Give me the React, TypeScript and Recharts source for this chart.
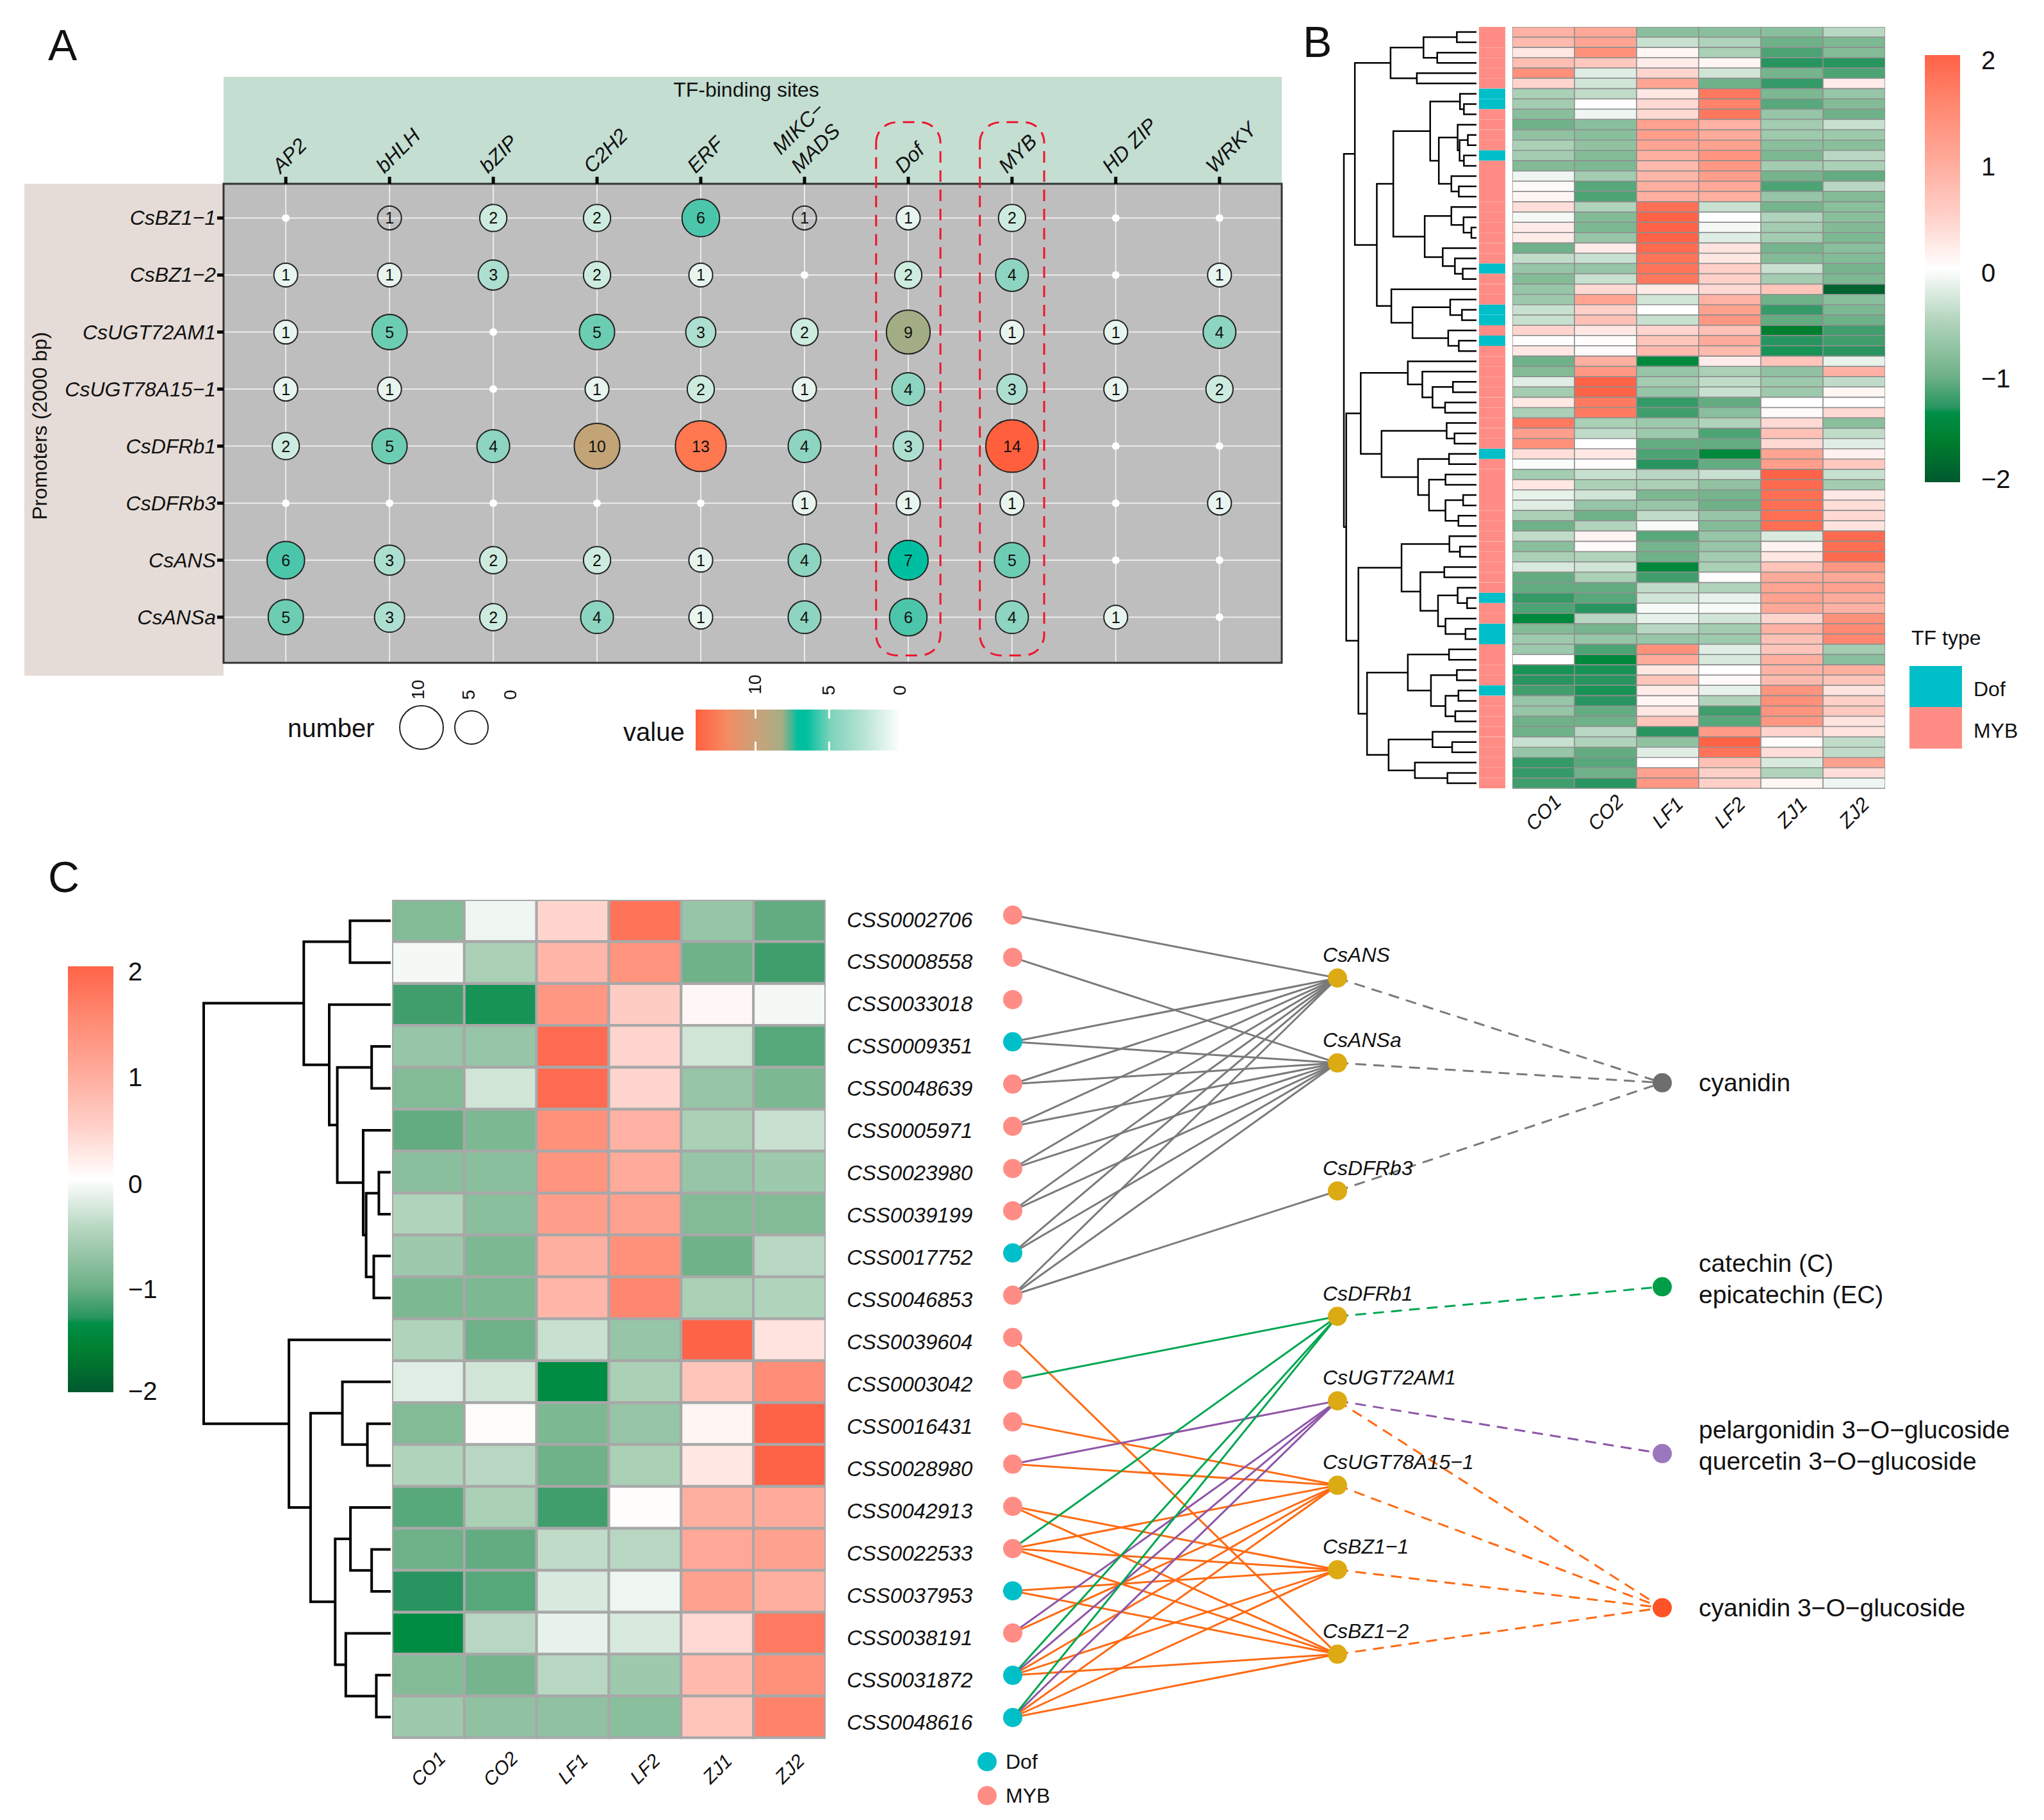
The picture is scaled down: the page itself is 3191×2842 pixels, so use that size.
import React from 'react'
import {
  BarChart, Bar, Cell, XAxis, YAxis, ZAxis, ScatterChart, Scatter, CartesianGrid,
  ReferenceArea, LineChart, Line,
} from 'recharts'

const FONT = '"Liberation Sans", Arial, sans-serif'

// ---- panel A ----
const tfSites = ['AP2', 'bHLH', 'bZIP', 'C2H2', 'ERF', 'MIKC−|MADS', 'Dof', 'MYB', 'HD ZIP', 'WRKY']
const promoters = ['CsBZ1−1', 'CsBZ1−2', 'CsUGT72AM1', 'CsUGT78A15−1', 'CsDFRb1', 'CsDFRb3', 'CsANS', 'CsANSa']
const siteCounts = [
  [0, 1, 2, 2, 6, 1, 1, 2, 0, 0],
  [1, 1, 3, 2, 1, 0, 2, 4, 0, 1],
  [1, 5, 0, 5, 3, 2, 9, 1, 1, 4],
  [1, 1, 0, 1, 2, 1, 4, 3, 1, 2],
  [2, 5, 4, 10, 13, 4, 3, 14, 0, 0],
  [0, 0, 0, 0, 0, 1, 1, 1, 0, 1],
  [6, 3, 2, 2, 1, 4, 7, 5, 0, 0],
  [5, 3, 2, 4, 1, 4, 6, 4, 1, 0],
]
// these two cells of the first row have no fill in the figure
const unfilledSites = ['0-1', '0-5']
const countColors: Record<number, string> = {
  1: '#e8f5ef', 2: '#cdecdf', 3: '#acdfd0', 4: '#8dd5c0', 5: '#6dcdb3', 6: '#4cc6ab',
  7: '#00bfa0', 9: '#a3ad85', 10: '#c2a476', 13: '#ff7850', 14: '#ff5f3c',
}

// ---- heatmap colours ----
const heatStops: [number, string][] = [
  [-2, '#00592f'], [-1.6, '#007f2f'], [-1.35, '#008f47'], [-1.3, '#289560'], [-1, '#6fb188'],
  [-0.5, '#b0d3bb'], [0, '#ffffff'], [0.5, '#ffd0c8'], [1, '#ffab9b'], [1.5, '#ff8a73'], [2, '#ff6347'],
]
const samples = ['CO1', 'CO2', 'LF1', 'LF2', 'ZJ1', 'ZJ2']

// ---- panel B ----
const heatB = [
  [0.9, 1.05, -0.8, -0.8, -0.8, -0.45], [0.8, 1.1, -0.35, -0.5, -1, -0.9], [0.25, 1.4, 0.1, -0.55, -1.15, -0.85],
  [0.75, 0.6, 0.2, 0.1, -1.3, -1.3], [1.4, -0.2, 0.45, -0.3, -0.95, -1.15], [0.45, -0.3, 1.1, -1, -1.25, 0.2],
  [-0.55, -0.4, 0.25, 1.75, -0.9, -0.7], [-0.6, 0, 0.4, 1.6, -1.1, -0.85], [-0.8, -0.1, 0.4, 1.75, -0.7, -1],
  [-1, -0.8, 1.15, 0.9, -0.6, -0.35], [-0.75, -0.8, 1.2, 1, -0.65, -0.65], [-0.55, -0.75, 1.1, 1.15, -0.8, -0.8],
  [-0.6, -0.85, 0.95, 1.35, -0.9, -0.45], [-0.85, -0.9, 0.8, 1.3, -0.6, -0.55], [-0.1, -0.6, 0.85, 1.2, -0.95, -1.05],
  [0.05, -1.1, 0.95, 1.05, -1.15, -0.45], [0.1, -1.15, 0.95, 0.95, -0.7, -0.85], [0.35, -0.5, 1.85, -0.35, -0.95, -0.8],
  [-0.07, -0.85, 2, 0, -0.5, -0.8], [0.2, -0.9, 2, -0.07, -0.6, -0.85], [0.2, -0.7, 2, -0.2, -0.6, -0.9],
  [-1, 0.2, 1.9, 0.3, -0.95, -0.8], [-0.4, -0.35, 1.8, 0.25, -0.85, -0.85], [-0.7, -0.7, 1.8, 0.5, -0.35, -0.95],
  [-0.85, -0.35, 1.75, 0.5, -0.6, -0.9], [-0.7, 0.4, 0.2, 0.4, 0.65, -1.9], [-0.65, 1.1, -0.3, 0.9, -1, -0.8],
  [-0.35, 0.5, 0, 1.15, -1.25, -0.9], [-0.35, 0.7, -0.35, 1.3, -1.05, -1], [0.45, 0.25, 0.45, 0.7, -1.6, -1.2],
  [-0.02, 0.03, 0.65, 1, -1.3, -1.2], [0.25, 0.05, 0.8, 0.8, -1.32, -1.3], [-1, 0.95, -1.45, 0.2, 0.65, -0.15],
  [-0.85, 1.3, -0.7, -0.55, -0.75, 0.9], [-0.2, 2, -0.6, -0.4, -0.65, -0.4], [-0.6, 2, -0.7, -0.35, -0.65, 0.1],
  [0.25, 1.7, -1.25, -1.05, 0, 0], [-0.55, 1.7, -1.2, -0.8, 0.05, 0.4], [1.7, -0.55, -0.65, -0.5, 0.4, -0.8],
  [1.2, -0.4, -0.65, -1.15, 0.7, -0.4], [1.4, 0, -1.05, -1.05, 0.4, -0.2], [0.35, 0.25, -1.15, -1.45, 1.1, 0.15],
  [-0.03, 0.03, -1.3, -1.05, 1.2, 0.6], [-0.6, -0.35, -0.45, -0.35, 2, -0.35], [0.25, -0.55, -0.55, -0.75, 1.9, -0.6],
  [-0.15, -0.3, -0.9, -0.95, 1.85, 0.25], [-0.2, -0.7, -0.7, -1, 1.85, 0.35], [-0.55, -1, -0.4, -0.7, 1.85, 0.4],
  [-1, -0.5, -0.05, -0.85, 1.85, 0.3], [-0.4, 0.12, -1.1, -0.7, -0.25, 1.9], [-0.8, 0.05, -0.95, -0.7, 0.12, 1.85],
  [-0.55, -0.5, -1, -0.6, 0.25, 1.9], [-0.25, -0.3, -1.45, -0.55, 0.65, 1.3], [-1.05, -0.55, -1.2, 0.03, 1, 1.05],
  [-1.05, -1.05, -0.4, -0.5, 1.1, 1.15], [-1.25, -1.1, -0.3, -0.15, 1.15, 1], [-1.15, -1.3, -0.05, -0.05, 1.05, 0.9],
  [-1.45, -0.45, -0.15, -0.3, 0.45, 1.4], [-0.85, -0.95, -0.45, -0.6, 0.9, 1.5], [-0.65, -0.7, -0.7, -0.65, 0.7, 1.55],
  [-0.65, -1.15, 1.4, -0.2, 0.65, -0.6], [0, -1.45, 1, -0.25, 0.95, -0.8], [-1.32, -1.32, 0.25, 0, 0.9, 0.95],
  [-1.3, -1.3, 0.65, 0.05, 0.8, 0.65], [-1.2, -1.32, 0.2, -0.15, 1.35, 0.3], [-0.7, -1.3, 0.1, -0.5, 1.4, 0.5],
  [-0.7, -1.05, 0.25, -1.2, 1.35, 0.6], [-1, -1, 0.65, -1.1, 1.3, 0.3], [-1, -0.45, -1.3, 1.25, 0.45, 0.3],
  [-0.35, -0.5, -0.75, 2, 0.03, -0.4], [-0.7, -1.05, -0.2, 1.8, 0.35, -0.4], [-1.25, -1.1, 0, 0.7, -0.25, 1.15],
  [-1.25, -1, 1.15, 0.5, -0.5, 0.35], [-1.2, -1.3, 1.3, 0.5, 0.1, -0.1],
]
const dofRowsB = [6, 7, 12, 23, 27, 28, 30, 41, 55, 58, 59, 64]

type Tree = number | [number, Tree, Tree]
const clusterB1: Tree = [219, [135, [50, 0, 1], [100, 2, 3]], [152, 4, 5]]
const clusterB2: Tree = [118,
  [42, 6, [32, 7, 8]],
  [96, [48, 9, [43, [22, 10, 11], [32, 12, 13]]], [64, 14, [45, 15, 16]]]]
const clusterB3: Tree = [132,
  [64, 17, [33, 18, [13, 19, 20]]],
  [86, 21, [55, 22, [35, 23, 24]]]]
const clusterB4: Tree = [217, 25, [163, [67, 26, [37, 27, 28]], [72, 29, [45, 30, 31]]]]
const clusterB5: Tree = [175, 32, [138, 33, [112, [60, 34, 35], [80, 36, 37]]]]
const clusterB6: Tree = [242, [76, 38, [56, 39, 40]], [149, [70, 41, 42], [121, [79, 43, 44], [79, [34, 45, 46], [46, 47, 48]]]]]
const clusterB7: Tree = [191, [69, 49, [42, 50, 51]], [143, [82, 52, 53], [98, [48, 54, [24, 55, 56]], [79, 57, [28, 58, 59]]]]]
const clusterB8: Tree = [175, [70, 60, 61], [116, [50, 62, 63], [79, [46, 64, 65], [54, 66, 67]]]]
const clusterB9: Tree = [224, [112, 68, [62, 69, 70]], [157, 71, [74, 72, 73]]]
const treeB: Tree = [338,
  [310, clusterB1, [254, [212, clusterB2, clusterB3], clusterB4]],
  [332, [295, clusterB5, clusterB6], [301, clusterB7, [279, clusterB8, clusterB9]]]]

// ---- panel C ----
const heatC = [
  [-0.85, -0.1, 0.45, 1.8, -0.7, -1.05], [-0.07, -0.55, 0.85, 1.35, -1, -1.2], [-1.2, -1.32, 1.3, 0.55, 0.08, -0.07],
  [-0.7, -0.7, 1.9, 0.45, -0.3, -1.1], [-0.85, -0.3, 1.9, 0.45, -0.7, -0.9], [-1.05, -0.9, 1.4, 0.9, -0.55, -0.35],
  [-0.8, -0.8, 1.35, 1, -0.7, -0.65], [-0.5, -0.8, 1.2, 1.15, -0.85, -0.85], [-0.65, -0.9, 0.95, 1.4, -1, -0.45],
  [-0.9, -0.9, 0.85, 1.55, -0.55, -0.5], [-0.5, -1, -0.35, -0.7, 2, 0.3], [-0.2, -0.3, -1.4, -0.55, 0.65, 1.45],
  [-0.85, 0.03, -0.9, -0.7, 0.1, 2], [-0.5, -0.45, -1, -0.55, 0.25, 2], [-1.1, -0.55, -1.2, 0.03, 0.95, 1],
  [-1, -1.05, -0.4, -0.45, 1.05, 1.15], [-1.3, -1.1, -0.25, -0.1, 1.15, 0.95], [-1.4, -0.45, -0.15, -0.25, 0.4, 1.7],
  [-0.85, -0.95, -0.45, -0.65, 0.8, 1.4], [-0.65, -0.75, -0.75, -0.8, 0.65, 1.6],
]
const treeC: Tree = [441,
  [205, [96, 0, 1], [145, 2, [126, [45, 3, 4], [65, 5, [58, [28, 6, 7], [40, 8, 9]]]]]],
  [240, 10, [189, [114, 11, [55, 12, 13]], [131, [95, 14, [45, 15, 16]], [106, 17, [34, 18, 19]]]]]]

const tfNames = [
  'CSS0002706', 'CSS0008558', 'CSS0033018', 'CSS0009351', 'CSS0048639', 'CSS0005971', 'CSS0023980',
  'CSS0039199', 'CSS0017752', 'CSS0046853', 'CSS0039604', 'CSS0003042', 'CSS0016431', 'CSS0028980',
  'CSS0042913', 'CSS0022533', 'CSS0037953', 'CSS0038191', 'CSS0031872', 'CSS0048616',
]
const dofTfs = [3, 8, 16, 18, 19]
const enzymes = ['CsANS', 'CsANSa', 'CsDFRb3', 'CsDFRb1', 'CsUGT72AM1', 'CsUGT78A15−1', 'CsBZ1−1', 'CsBZ1−2']
const enzymeRows = [1.49, 3.5, 6.53, 9.5, 11.5, 13.5, 15.5, 17.5]
const metabolites = [
  ['cyanidin'], ['catechin (C)', 'epicatechin (EC)'],
  ['pelargonidin 3−O−glucoside', 'quercetin 3−O−glucoside'], ['cyanidin 3−O−glucoside'],
]
const metaboliteRows = [3.97, 8.8, 12.75, 16.4]
const metaboliteColors = ['#6e6e6e', '#009e48', '#9b78bd', '#ff5226']

const grayEdges = [[0, 0], [1, 1], [3, 0], [3, 1], [4, 0], [4, 1], [5, 0], [5, 1], [6, 0], [6, 1], [7, 0], [7, 1], [8, 0], [8, 1], [9, 0], [9, 1], [9, 2]]
const greenEdges = [[11, 3], [15, 3], [18, 3], [19, 3]]
const purpleEdges = [[13, 4], [17, 4], [18, 4], [19, 4]]
const orangeEdges = [
  [10, 7], [12, 5], [13, 5], [14, 6], [14, 7], [15, 5], [15, 6], [15, 7], [16, 6], [16, 7],
  [17, 5], [18, 5], [18, 6], [18, 7], [19, 5], [19, 6], [19, 7],
]
const pathways: [number, number, string][] = [
  [0, 0, '#7a7a7a'], [1, 0, '#7a7a7a'], [2, 0, '#7a7a7a'], [3, 1, '#00a651'], [4, 2, '#8e55a8'],
  [4, 3, '#ff6a13'], [5, 3, '#ff6a13'], [6, 3, '#ff6a13'], [7, 3, '#ff6a13'],
]

const MYB_PINK = '#ff8d85'
const DOF_TEAL = '#00bfc9'

const lerpHex = (a: string, b: string, t: number) => {
  const p = (s: string, i: number) => parseInt(s.slice(i, i + 2), 16)
  const c = [1, 3, 5].map(i => Math.round(p(a, i) + (p(b, i) - p(a, i)) * t))
  return `rgb(${c.join(',')})`
}
const heatColor = (z: number) => {
  for (let i = 1; i < heatStops.length; i++) {
    if (z <= heatStops[i][0]) {
      const [z0, c0] = heatStops[i - 1]
      const [z1, c1] = heatStops[i]
      return lerpHex(c0, c1, Math.max(0, (z - z0) / (z1 - z0)))
    }
  }
  return heatStops[heatStops.length - 1][1]
}

const Txt = ({ x, y, size, children, rotate = 0, italic = false, anchor = 'left' }: any) => (
  <div style={{
    position: 'absolute', left: x, top: y, fontFamily: FONT, fontSize: size, lineHeight: 1, whiteSpace: 'nowrap',
    fontStyle: italic ? 'italic' : 'normal', color: '#111',
    transform: `translate(${anchor === 'center' ? '-50%' : '0'}, -50%) rotate(${rotate}deg)`,
  }}>{children}</div>
)

const Box = ({ x, y, w, h, bg }: any) => (
  <div style={{ position: 'absolute', left: x, top: y, width: w, height: h, background: bg }} />
)

const bubbleData = siteCounts.flatMap((row, r) => row.map((n, c) => ({ col: c, row: r, n, key: `${r}-${c}` })))

const Bubble = (props: any) => {
  const { cx, cy, width, payload } = props
  if (payload.n === 0) return <circle cx={cx} cy={cy} r={6} fill="#fff" />
  const fill = unfilledSites.includes(payload.key) ? 'none' : countColors[payload.n]
  return (
    <g>
      <circle cx={cx} cy={cy} r={width / 2} fill={fill} stroke="#222" strokeWidth={2} />
      <text x={cx} y={cy} textAnchor="middle" dominantBaseline="central" fontSize={25} fontFamily={FONT} fill="#111">{payload.n}</text>
    </g>
  )
}

const SiteTick = ({ x, y, payload }: any) => {
  const lines = tfSites[payload.value].split('|')
  return (
    <text transform={`translate(${x - 8},${y - 4}) rotate(-45)`} fontSize={32} fontStyle="italic" fontFamily={FONT} fill="#111">
      {lines.length === 1
        ? lines[0]
        : <><tspan x={0} y={-41}>{lines[0]}</tspan><tspan x={0} y={0}>{lines[1]}</tspan></>}
    </text>
  )
}

const PromoterTick = ({ x, y, payload }: any) => (
  <text x={x - 2} y={y} textAnchor="end" dominantBaseline="central" fontSize={32} fontStyle="italic" fontFamily={FONT} fill="#111">
    {promoters[payload.value]}
  </text>
)

const PanelA = () => (
  <div style={{ position: 'absolute', left: 0, top: 0 }}>
    <ScatterChart width={2040} height={1100} margin={{ top: 227, left: 229, right: 39, bottom: 65 }}>
      <CartesianGrid fill="#bebebe" stroke="#ececec" strokeWidth={2} />
      <XAxis type="number" dataKey="col" orientation="top" domain={[-0.6, 9.6]} ticks={tfSites.map((_, i) => i)}
        height={60} tick={<SiteTick />} tickSize={11} tickMargin={0} interval={0}
        axisLine={false} tickLine={{ stroke: '#000', strokeWidth: 5 }} />
      <YAxis type="number" dataKey="row" reversed domain={[-0.6, 7.8]} ticks={promoters.map((_, i) => i)}
        width={120} tick={<PromoterTick />} tickSize={10} tickMargin={0} interval={0}
        axisLine={false} tickLine={{ stroke: '#000', strokeWidth: 5 }} />
      <ZAxis type="number" dataKey="n" domain={[1, 14]} range={[764, 5281]} />
      <Scatter data={bubbleData} shape={<Bubble />} isAnimationActive={false} />
      <ReferenceArea x1={-0.6} x2={9.6} y1={-0.6} y2={7.8} fill="none" stroke="#333" strokeWidth={3} ifOverflow="visible" />
      <ReferenceArea x1={5.69} x2={6.31} y1={-1.68} y2={7.67} fill="none" stroke="#f0142d" strokeWidth={3}
        strokeDasharray="18 12" radius={32} ifOverflow="visible" />
      <ReferenceArea x1={6.69} x2={7.31} y1={-1.68} y2={7.67} fill="none" stroke="#f0142d" strokeWidth={3}
        strokeDasharray="18 12" radius={32} ifOverflow="visible" />
    </ScatterChart>
  </div>
)

const HeatTick = ({ x, y, payload, offset, size }: any) => (
  <text transform={`translate(${x},${y + offset}) rotate(-45)`} textAnchor="middle" dominantBaseline="central"
    fontSize={size} fontStyle="italic" fontFamily={FONT} fill="#111">
    {samples[Math.floor(payload.value)]}
  </text>
)

const Heatmap = ({ x, y, w, h, matrix, border, borderWidth, labelOffset, labelSize }: any) => {
  const rows = matrix.map((_: number[], i: number) => ({ row: i, CO1: 1, CO2: 1, LF1: 1, LF2: 1, ZJ1: 1, ZJ2: 1 }))
  return (
    <div style={{ position: 'absolute', left: x, top: y }}>
      <BarChart width={w} height={h + 100} data={rows} layout="vertical" barCategoryGap={0} barGap={0}
        margin={{ top: 0, left: 0, right: 0, bottom: 0 }}>
        <XAxis type="number" domain={[0, 6]} ticks={[0.5, 1.5, 2.5, 3.5, 4.5, 5.5]} height={100} interval={0}
          axisLine={false} tickLine={false} tickSize={0} tickMargin={0}
          tick={<HeatTick offset={labelOffset} size={labelSize} />} />
        <YAxis type="category" dataKey="row" hide />
        {samples.map((s, c) => (
          <Bar key={s} dataKey={s} stackId="a" isAnimationActive={false}>
            {matrix.map((z: number[], i: number) => (
              <Cell key={i} fill={heatColor(z[c])} stroke={border} strokeWidth={borderWidth} />
            ))}
          </Bar>
        ))}
      </BarChart>
    </div>
  )
}

const annotationRows = heatB.map((_, i) => ({ row: i, span: 1 }))

const Annotation = ({ x, y, w, h }: any) => (
  <div style={{ position: 'absolute', left: x, top: y }}>
    <BarChart width={w} height={h} data={annotationRows} layout="vertical" barCategoryGap={0}
      margin={{ top: 0, left: 0, right: 0, bottom: 0 }}>
      <XAxis type="number" domain={[0, 1]} hide />
      <YAxis type="category" dataKey="row" hide />
      <Bar dataKey="span" isAnimationActive={false}>
        {annotationRows.map(r => (
          <Cell key={r.row} fill={dofRowsB.includes(r.row) ? DOF_TEAL : MYB_PINK} />
        ))}
      </Bar>
    </BarChart>
  </div>
)

const treePoints = (tree: Tree) => {
  const pts: { h: number; y: number | null }[] = []
  const walk = (n: Tree): { y: number; h: number } => {
    if (typeof n === 'number') return { y: n, h: 0 }
    const l = walk(n[1])
    const r = walk(n[2])
    pts.push({ h: l.h, y: l.y }, { h: n[0], y: l.y }, { h: n[0], y: r.y }, { h: r.h, y: r.y }, { h: n[0], y: null })
    return { y: (l.y + r.y) / 2, h: n[0] }
  }
  walk(tree)
  return pts
}

const Dendrogram = ({ x, y, w, h, tree, rows, maxH, width }: any) => {
  const m = 6
  return (
    <div style={{ position: 'absolute', left: x - m, top: y - m }}>
      <LineChart width={w + 2 * m} height={h + 2 * m} data={treePoints(tree)} margin={{ top: m, left: m, right: m, bottom: m }}>
        <XAxis type="number" dataKey="h" domain={[0, maxH]} reversed hide />
        <YAxis type="number" domain={[-0.5, rows - 0.5]} reversed hide />
        <Line dataKey="y" stroke="#000" strokeWidth={width} dot={false} connectNulls={false} type="linear" isAnimationActive={false} />
      </LineChart>
    </div>
  )
}

const ColorBar = ({ x, y, w, h, labelX, labelYs }: any) => {
  const stops = heatStops.map(([z, c]) => `${c} ${((z + 2) / 4) * 100}%`).join(',')
  return (
    <>
      <div style={{ position: 'absolute', left: x, top: y, width: w, height: h, background: `linear-gradient(to top, ${stops})` }} />
      {['2', '1', '0', '−1', '−2'].map((t, i) => <Txt key={t} x={labelX} y={labelYs[i]} size={40}>{t}</Txt>)}
    </>
  )
}

const tfPoints = tfNames.map((name, i) => ({ x: 0, y: i, name, fill: dofTfs.includes(i) ? DOF_TEAL : MYB_PINK }))
const enzymePoints = enzymes.map((name, i) => ({ x: 1, y: enzymeRows[i], name }))
const metabolitePoints = metabolites.map((lines, i) => ({ x: 2, y: metaboliteRows[i], lines, fill: metaboliteColors[i] }))

const TfNode = ({ cx, cy, payload }: any) => (
  <g>
    <circle cx={cx} cy={cy} r={15} fill={payload.fill} />
    <text x={cx - 259} y={cy + 7} dominantBaseline="central" fontSize={33} fontStyle="italic" fontFamily={FONT} fill="#111">{payload.name}</text>
  </g>
)
const EnzymeNode = ({ cx, cy, payload }: any) => (
  <g>
    <circle cx={cx} cy={cy} r={15} fill="#dcaa12" />
    <text x={cx - 23} y={cy - 36} dominantBaseline="central" fontSize={32} fontStyle="italic" fontFamily={FONT} fill="#111">{payload.name}</text>
  </g>
)
const MetaboliteNode = ({ cx, cy, payload }: any) => (
  <g>
    <circle cx={cx} cy={cy} r={15} fill={payload.fill} />
    {payload.lines.map((t: string, i: number) => (
      <text key={t} x={cx + 57} y={cy + (payload.lines.length === 1 ? 0 : i === 0 ? -37 : 12)} dominantBaseline="central"
        fontSize={39} fontFamily={FONT} fill="#111">{t}</text>
    ))}
  </g>
)
const NoDot = () => <g />

const Edge = ({ a, b, color, dash }: any) => (
  <Scatter data={[a, b]} line={{ stroke: color, strokeWidth: 3, strokeDasharray: dash }} lineType="joint" shape={<NoDot />} isAnimationActive={false} />
)

const edgeSeries = (edges: number[][], color: string) => edges.map(([t, e]) => (
  <Scatter key={`${color}-${t}-${e}`} data={[{ x: 0, y: t }, { x: 1, y: enzymeRows[e] }]}
    line={{ stroke: color, strokeWidth: 3 }} lineType="joint" shape={<NoDot />} isAnimationActive={false} />
))

const Network = () => (
  <div style={{ position: 'absolute', left: 1300, top: 1380 }}>
    <ScatterChart width={1891} height={1460} margin={{ top: 49, left: 281, right: 596, bottom: 158 }}>
      <XAxis type="number" dataKey="x" domain={[0, 2]} hide />
      <YAxis type="number" dataKey="y" domain={[0, 19]} reversed hide />
      {edgeSeries(grayEdges, '#7a7a7a')}
      {edgeSeries(orangeEdges, '#ff6a13')}
      {edgeSeries(purpleEdges, '#8e55a8')}
      {edgeSeries(greenEdges, '#00a651')}
      {pathways.map(([e, m, color]) => (
        <Scatter key={`${e}-${m}`} data={[{ x: 1, y: enzymeRows[e] }, { x: 2, y: metaboliteRows[m] }]}
          line={{ stroke: color, strokeWidth: 3, strokeDasharray: '17 11' }} lineType="joint" shape={<NoDot />} isAnimationActive={false} />
      ))}
      <Scatter data={tfPoints} shape={<TfNode />} isAnimationActive={false} />
      <Scatter data={enzymePoints} shape={<EnzymeNode />} isAnimationActive={false} />
      <Scatter data={metabolitePoints} shape={<MetaboliteNode />} isAnimationActive={false} />
    </ScatterChart>
  </div>
)

export default function App() {
  return (
    <div style={{ position: 'absolute', left: 0, top: 0, width: 3191, height: 2842, background: '#fff', overflow: 'hidden' }}>
      <Txt x={75} y={70} size={68}>A</Txt>
      <Txt x={2034} y={65} size={68}>B</Txt>
      <Txt x={75} y={1369} size={68}>C</Txt>

      <Box x={349} y={120} w={1652} h={167} bg="#c4ded2" />
      <Box x={38} y={287} w={311} h={768} bg="#e5dcd7" />
      <PanelA />
      <Txt x={1165} y={140} size={32} anchor="center">TF-binding sites</Txt>
      <Txt x={62} y={665} size={32} rotate={-90} anchor="center">Promoters (2000 bp)</Txt>

      <Txt x={449} y={1137} size={40}>number</Txt>
      <div style={{ position: 'absolute', left: 623, top: 1101, width: 70, height: 70, borderRadius: '50%', border: '2px solid #222', boxSizing: 'border-box' }} />
      <div style={{ position: 'absolute', left: 709, top: 1109, width: 54, height: 54, borderRadius: '50%', border: '2px solid #222', boxSizing: 'border-box' }} />
      <Txt x={653} y={1077} size={28} rotate={-90} anchor="center">10</Txt>
      <Txt x={732} y={1085} size={28} rotate={-90} anchor="center">5</Txt>
      <Txt x={797} y={1085} size={28} rotate={-90} anchor="center">0</Txt>
      <Txt x={973} y={1143} size={40}>value</Txt>
      <div style={{
        position: 'absolute', left: 1086, top: 1108, width: 320, height: 64,
        background: 'linear-gradient(to right, #ff6040 0%, #f58a62 15%, #c9a27a 30%, #a8ad85 42%, #00bf9f 50%, #00bf9f 54%, #7ed3bb 66%, #b8e3d4 82%, #ffffff 100%)',
      }} />
      {[1179, 1294].map(x => (
        <React.Fragment key={x}>
          <Box x={x - 1} y={1108} w={3} h={14} bg="#fff" />
          <Box x={x - 1} y={1158} w={3} h={14} bg="#fff" />
        </React.Fragment>
      ))}
      <Txt x={1179} y={1069} size={28} rotate={-90} anchor="center">10</Txt>
      <Txt x={1294} y={1078} size={28} rotate={-90} anchor="center">5</Txt>
      <Txt x={1405} y={1078} size={28} rotate={-90} anchor="center">0</Txt>

      <Dendrogram x={2098} y={42} w={207} h={1189} tree={treeB} rows={74} maxH={338} width={2.5} />
      <Annotation x={2309} y={42} w={41} h={1189} />
      <Heatmap x={2361} y={42} w={582} h={1189} matrix={heatB} border="#8f8f8f" borderWidth={1.5} labelOffset={38} labelSize={31} />
      <ColorBar x={3005} y={86} w={55} h={667} labelX={3093} labelYs={[94, 260, 426, 591, 748]} />
      <Txt x={2984} y={996} size={32}>TF type</Txt>
      <Box x={2981} y={1040} w={82} h={64} bg={DOF_TEAL} />
      <Box x={2981} y={1104} w={82} h={65} bg={MYB_PINK} />
      <Txt x={3081} y={1076} size={32}>Dof</Txt>
      <Txt x={3081} y={1141} size={32}>MYB</Txt>

      <Dendrogram x={318} y={1405} w={292} h={1309} tree={treeC} rows={20} maxH={441} width={4} />
      <Heatmap x={612} y={1405} w={677} h={1309} matrix={heatC} border="#a8a8a8" borderWidth={4} labelOffset={48} labelSize={30} />
      <ColorBar x={106} y={1509} w={71} h={665} labelX={200} labelYs={[1517, 1682, 1849, 2013, 2172]} />
      <Network />
      <svg style={{ position: 'absolute', left: 1525, top: 2730 }} width={40} height={90}>
        <circle cx={16} cy={21} r={15} fill={DOF_TEAL} />
        <circle cx={16} cy={74} r={15} fill={MYB_PINK} />
      </svg>
      <Txt x={1570} y={2751} size={32}>Dof</Txt>
      <Txt x={1570} y={2804} size={32}>MYB</Txt>
    </div>
  )
}
